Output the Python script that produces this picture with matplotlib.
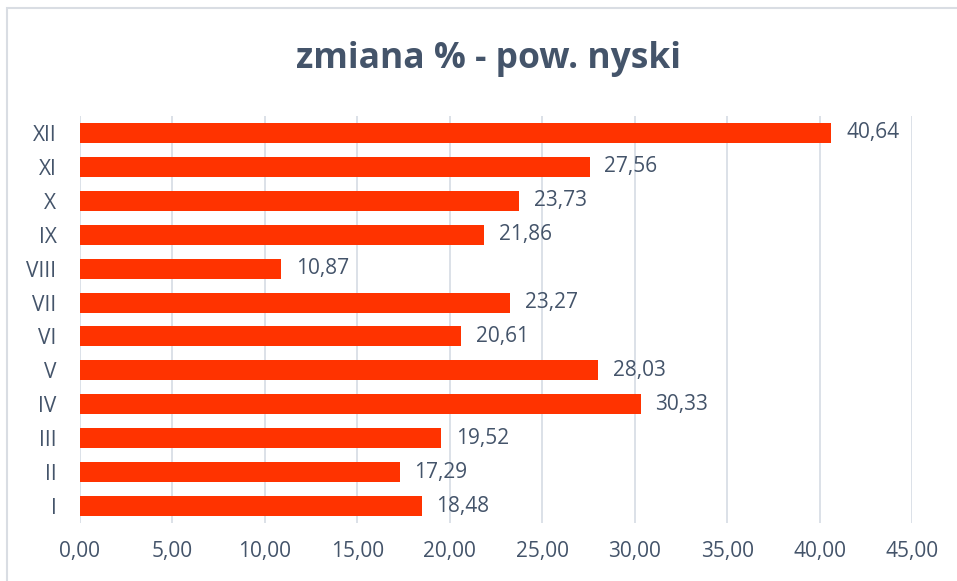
import matplotlib.pyplot as plt
from matplotlib.patches import Rectangle

miesiace = ['I', 'II', 'III', 'IV', 'V', 'VI', 'VII', 'VIII', 'IX', 'X', 'XI', 'XII']
zmiana = [18.48, 17.29, 19.52, 30.33, 28.03, 20.61, 23.27, 10.87, 21.86, 23.73, 27.56, 40.64]
ticks = [0, 5, 10, 15, 20, 25, 30, 35, 40, 45]

plt.rcParams['font.family'] = ['Open Sans', 'DejaVu Sans']
tekst = '#44546A'

fig = plt.figure(figsize=(9.57, 5.81), dpi=100)
fig.patches.append(Rectangle((7 / 957, -0.01), 1.0, 1 - 8 / 581 + 0.01, transform=fig.transFigure,
                             fill=False, edgecolor='#D9DDE3', linewidth=1.5))

ax = fig.add_axes([80 / 957, 1 - 523 / 581, 832 / 957, 407 / 581])
y = range(len(miesiace))
ax.barh(y, zmiana, height=0.59, color='#FF3300', zorder=3)
for i, v in enumerate(zmiana):
    ax.text(v + 0.8, i, f'{v:.2f}'.replace('.', ','), va='center', ha='left',
            fontsize=15, color=tekst)

ax.set_xlim(0, 45)
ax.set_ylim(-0.5, 11.5)
ax.set_xticks(ticks)
ax.set_xticklabels([f'{t:.2f}'.replace('.', ',') for t in ticks], fontsize=15, color=tekst)
ax.set_yticks(list(y))
ax.set_yticklabels(miesiace, fontsize=15, color=tekst)
ax.tick_params(length=0, pad=13)
ax.tick_params(axis='y', pad=17)
ax.grid(axis='x', color='#D9DEE6', linewidth=1.3, zorder=0)
for s in ax.spines.values():
    s.set_visible(False)

fig.text(489 / 957, 1 - 59 / 581, 'zmiana % - pow. nyski', ha='center', va='center',
         fontsize=25.5, fontweight='bold', color=tekst)

fig.savefig('out.png', dpi=100)
